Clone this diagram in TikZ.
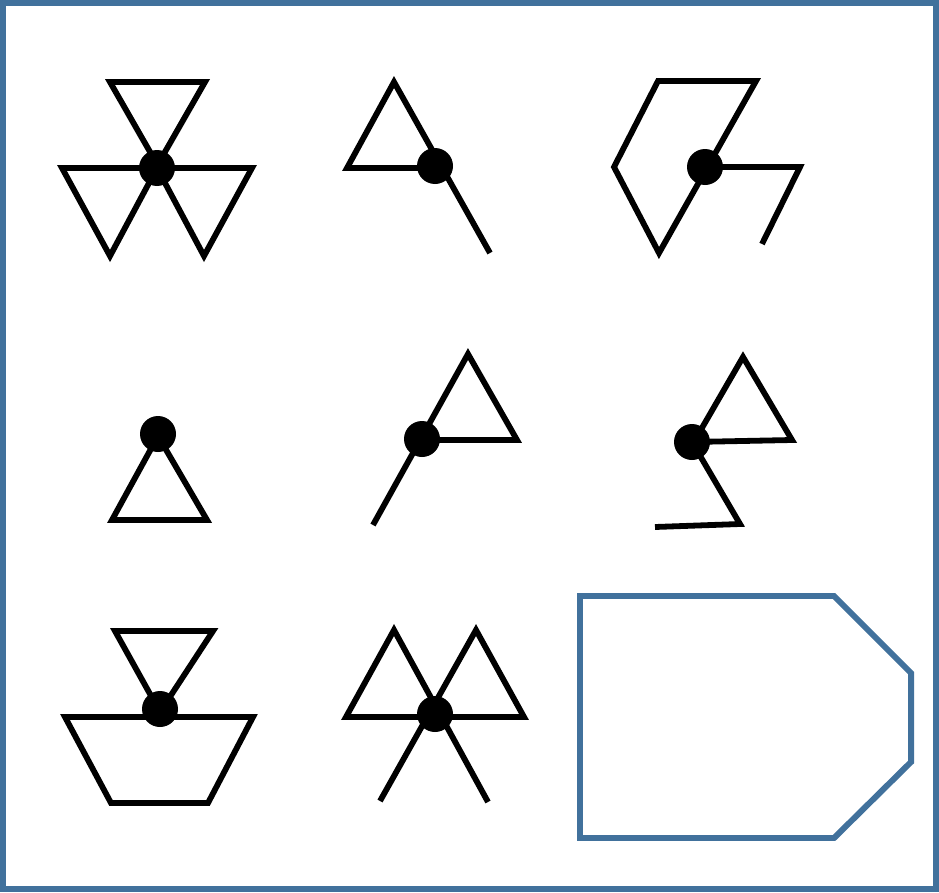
\documentclass[tikz,border=0pt]{standalone}
\definecolor{frameblue}{RGB}{65,113,156}
\begin{document}
\begin{tikzpicture}[x=0.02cm,y=-0.02cm,
  glyph/.style={line width=3.3pt, black},
  outline/.style={line width=3.4pt, frameblue}]
\useasboundingbox (0,0) rectangle (939,892);
\draw[outline] (3,3) rectangle (936,889);

% hub points
\coordinate (h1) at (157,168);
\coordinate (h2) at (435,166);
\coordinate (h3) at (705,167);
\coordinate (h4) at (158,434);
\coordinate (h5) at (422,439);
\coordinate (h6) at (692,442);
\coordinate (h7) at (160,709);
\coordinate (h8) at (435,714);

% row 1
\draw[glyph] (110,82) -- (205,82) -- (157.5,165) -- cycle;
\draw[glyph] (62,168) -- (157,168) -- (110,256) -- cycle;
\draw[glyph] (157,168) -- (252,168) -- (204,256) -- cycle;

\draw[glyph] (443,168) -- (347,168) -- (394,82) -- (490,253);

\draw[glyph] (756,81) -- (658,81) -- (614,167) -- (659,253) -- cycle;
\draw[glyph] (h3) -- (800,167) -- (762,244);

% row 2
\draw[glyph] (158,436) -- (112,520) -- (207,520) -- cycle;

\draw[glyph] (373,525) -- (468,354) -- (517,440) -- (420,440);

\draw[glyph] (695,440) -- (743,357) -- (792,440) -- (h6);
\draw[glyph] (h6) -- (740,524) -- (655,527);

% row 3
\draw[glyph] (115,631) -- (213,631) -- (160,712) -- cycle;
\draw[glyph] (65,717) -- (253,717) -- (208,803) -- (111,803) -- cycle;

\draw[glyph] (441,717) -- (346,717) -- (394,630) -- (488,802);
\draw[glyph] (429,717) -- (524,717) -- (476,630) -- (380,801);

\draw[outline] (580,596) -- (834,596) -- (911,673) -- (911,762) -- (834,838) -- (580,838) -- cycle;

% dots
\foreach \h in {h1,h2,h3,h4,h5,h6,h7,h8}
  \fill (\h) circle (18);
\end{tikzpicture}
\end{document}
